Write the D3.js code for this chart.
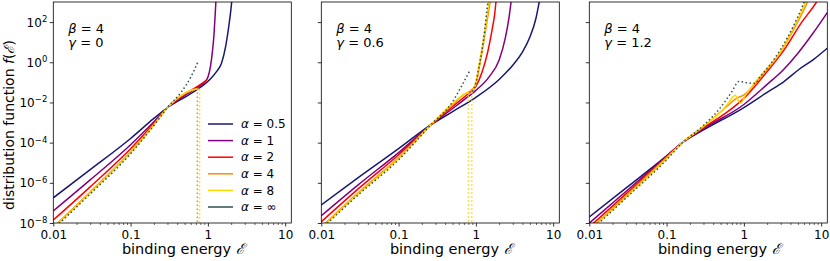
<!DOCTYPE html>
<html>
<head>
<meta charset="utf-8">
<script src="https://cdn.jsdelivr.net/npm/d3@7"></script>
<style>
body { margin: 0; background: #fff; }
svg { display: block; font-family: "DejaVu Sans", sans-serif; }
</style>
</head>
<body>
<svg width="830" height="261"></svg>
<script>
// legend / series
const alphaLabels = ["0.5", "1", "2", "4", "8", "∞"];
const colors = ["midnightblue", "purple", "red", "darkorange", "gold", "darkslategray"];
const gammas = ["0", "0.6", "1.2"];
const beta = "4";

const xTicks = [0.01, 0.1, 1, 10];
const xTickLabels = ["0.01", "0.1", "1", "10"];
const yTicks = [1e-8, 1e-6, 1e-4, 1e-2, 1e0, 1e2];
const yTickExps = ["−8", "−6", "−4", "−2", "0", "2"];

// each series: list of segments of [E, f]
const curvesG0 = [
  [[[0.01,1.8e-7],[0.03,4.5e-6],[0.1,1.6e-4],[0.2,1.6e-3],[0.3,5.6e-3],[0.5,1.8e-2],[0.7,4.0e-2],[0.9,7.9e-2],[1.1,0.16],[1.3,0.35],[1.5,0.9],[1.7,6.3],[1.85,50],[1.97,320],[2.07,2000]]],
  [[[0.01,4.0e-8],[0.03,1.4e-6],[0.1,7.9e-5],[0.2,1.1e-3],[0.3,5.6e-3],[0.5,2.2e-2],[0.7,5.0e-2],[0.9,0.1],[1.0,0.18],[1.08,0.63],[1.15,4.0],[1.2,25],[1.24,200],[1.28,2000]]],
  [[[0.01,1.4e-8],[0.03,6.3e-7],[0.1,5.0e-5],[0.2,8.9e-4],[0.3,5.6e-3],[0.5,2.5e-2],[0.7,5.6e-2],[0.97,0.13]]],
  [[[0.01,6.3e-9],[0.03,3.5e-7],[0.1,3.5e-5],[0.2,7.9e-4],[0.3,5.6e-3],[0.5,2.8e-2],[0.73,5.0e-2]]],
  [[[0.01,5.6e-9],[0.03,3.2e-7],[0.1,3.2e-5],[0.2,7.6e-4],[0.3,5.6e-3],[0.5,2.8e-2],[0.7,4.5e-2],[0.78,4.5e-2]]],
  [[[0.01,5.0e-9],[0.03,2.8e-7],[0.1,2.8e-5],[0.2,7.1e-4],[0.3,5.6e-3],[0.45,3.2e-2],[0.6,0.18],[0.74,1.0]]]
];
const dropsG0 = [[3, 0.73, 5.0e-2], [4, 0.78, 4.5e-2]];

const curvesG06 = [
  [[[0.01,7.9e-8],[0.03,1.8e-6],[0.1,5.0e-5],[0.26,7.6e-4],[0.5,3.5e-3],[1,1.8e-2],[2,0.14],[3,0.71],[4,3.2],[5,18],[6,160],[6.6,1000],[7,3000]]],
  [[[0.01,2.3e-8],[0.03,7.9e-7],[0.1,3.2e-5],[0.26,7.6e-4],[0.5,5.0e-3],[0.8,2.0e-2],[1,4.0e-2],[1.5,0.2],[2,1.3],[2.4,16],[2.7,200],[2.85,1000],[2.95,3000]]],
  [[[0.01,1.15e-8],[0.03,5.0e-7],[0.1,2.5e-5],[0.26,7.6e-4],[0.5,6.3e-3],[0.8,2.8e-2],[1,6.3e-2],[1.2,0.32],[1.4,2.5],[1.6,32],[1.75,250],[1.82,1000],[1.9,3000]]],
  [[[0.01,6.3e-9],[0.03,3.2e-7],[0.1,1.8e-5],[0.26,7.6e-4],[0.5,7.9e-3],[0.7,2.5e-2],[0.9,4.5e-2],[1.0,7.9e-2],[1.1,0.5],[1.25,7.9],[1.4,126],[1.53,1000],[1.6,3000]]],
  [[[0.01,5.6e-9],[0.03,2.8e-7],[0.1,1.6e-5],[0.26,7.6e-4],[0.5,8.9e-3],[0.7,2.5e-2],[0.8,3.2e-2]],
   [[0.885,3.2e-2],[1.0,0.1],[1.1,0.79],[1.25,12.6],[1.38,160],[1.48,1000],[1.55,3000]]],
  [[[0.01,5.0e-9],[0.03,2.5e-7],[0.1,1.4e-5],[0.26,7.6e-4],[0.5,1.1e-2],[0.65,6.3e-2],[0.82,0.34]],
   [[0.9,3.5e-2],[1.0,0.1],[1.1,0.63],[1.2,4.0],[1.3,40],[1.38,320],[1.43,1000],[1.48,3000]]]
];
const dropsG06 = [[4, 0.80, 3.2e-2], [4, 0.885, 3.2e-2]];

const curvesG12 = [
  [[[0.01,2.0e-8],[0.03,5.6e-7],[0.1,2.2e-5],[0.16,1.0e-4],[0.3,4.3e-4],[1,5.6e-3],[2,3.2e-2],[3.3,0.11],[5.2,0.45],[8,1.4],[12,5.0]]],
  [[[0.01,1.0e-8],[0.03,3.8e-7],[0.1,2.1e-5],[0.16,1.0e-4],[0.3,5.0e-4],[1,7.9e-3],[2,7.9e-2],[3.2,0.4],[5,2.8],[7.5,22],[12,300]]],
  [[[0.01,6.3e-9],[0.03,2.9e-7],[0.1,1.9e-5],[0.16,1.0e-4],[0.3,5.6e-4],[0.6,3.2e-3],[1,1.6e-2],[2,0.35],[3.3,4.0],[5.5,89],[8.7,1000],[10,2500]]],
  [[[0.01,4.5e-9],[0.03,2.3e-7],[0.1,1.8e-5],[0.16,1.0e-4],[0.3,6.3e-4],[0.6,6.3e-3],[0.8,1.6e-2],[1,2.4e-2],[1.3,6.3e-2],[2,0.45],[3,3.2],[4.5,50],[6.65,1000],[7.5,3000]]],
  [[[0.01,4.0e-9],[0.03,2.0e-7],[0.1,1.6e-5],[0.16,1.0e-4],[0.3,6.6e-4],[0.55,5.0e-3],[0.65,1.1e-2],[0.72,1.9e-2],[0.77,2.3e-2],[0.9,9.1e-3],[1.05,2.3e-2],[1.3,7.1e-2],[2,0.5],[3,3.5],[4.5,63],[6.3,1000],[7,3000]]],
  [[[0.01,3.5e-9],[0.03,1.8e-7],[0.1,1.4e-5],[0.16,1.0e-4],[0.3,7.1e-4],[0.55,9.1e-3],[0.7,3.5e-2],[0.86,0.11],[1.1,9.5e-2],[1.4,8.9e-2],[1.6,0.18],[2,0.5],[3,4.5],[4.5,80],[6,1000],[6.6,3000]]]
];
const dropsG12 = [];

const panels = [
  {gamma: gammas[0], curves: curvesG0, drops: dropsG0},
  {gamma: gammas[1], curves: curvesG06, drops: dropsG06},
  {gamma: gammas[2], curves: curvesG12, drops: dropsG12}
];

const svg = d3.select("svg");
const plotTop = 2, plotBottom = 223, pw = 238, firstLeft = 53.3, step = 268;
const dotted = "1.5,2.5";

panels.forEach((p, i) => {
  const left = firstLeft + i * step;
  const x = d3.scaleLog().domain([0.01, 12]).range([left, left + pw]);
  const y = d3.scaleLog().domain([1e-8, 1e3]).range([plotBottom, plotTop]);
  const g = svg.append("g");

  g.append("clipPath").attr("id", "clip" + i)
    .append("rect").attr("x", left).attr("y", plotTop).attr("width", pw).attr("height", plotBottom - plotTop);

  const plot = g.append("g").attr("clip-path", `url(#clip${i})`);
  const line = d3.line().x(d => x(d[0])).y(d => y(d[1])).curve(d3.curveMonotoneX);

  p.curves.forEach((segs, k) => {
    segs.forEach(seg => {
      plot.append("path")
        .attr("d", line(seg))
        .attr("fill", "none")
        .attr("stroke", colors[k])
        .attr("stroke-width", 1.5)
        .attr("stroke-dasharray", k === 5 ? dotted : null);
    });
  });

  p.drops.forEach(d => {
    plot.append("line")
      .attr("x1", x(d[1])).attr("x2", x(d[1]))
      .attr("y1", y(d[2])).attr("y2", plotBottom)
      .attr("stroke", colors[d[0]])
      .attr("stroke-width", 1.5)
      .attr("stroke-dasharray", dotted);
  });

  // axes
  const minor = [];
  [0.01, 0.1, 1, 10].forEach(dec => d3.range(2, 10).forEach(m => { if (dec * m <= 12) minor.push(dec * m); }));

  g.append("g").attr("transform", `translate(0,${plotBottom})`)
    .call(d3.axisBottom(x).tickValues(minor).tickSize(2).tickFormat(""))
    .call(a => a.select(".domain").remove())
    .call(a => a.selectAll("line").attr("stroke-width", 0.6));

  g.append("g").attr("transform", `translate(0,${plotBottom})`)
    .call(d3.axisBottom(x).tickValues(xTicks).tickSize(3.5).tickPadding(3.5).tickFormat((d, j) => xTickLabels[j]))
    .call(a => a.select(".domain").remove())
    .call(a => a.selectAll("line").attr("stroke-width", 0.8))
    .call(a => a.selectAll("text").attr("font-size", 12).attr("font-family", "DejaVu Sans").attr("fill", "#000"));

  g.append("g").attr("transform", `translate(${left},0)`)
    .call(d3.axisLeft(y).tickValues(yTicks).tickSize(3.5).tickFormat(""))
    .call(a => a.select(".domain").remove())
    .call(a => a.selectAll("line").attr("stroke-width", 0.8));

  if (i === 0) {
    yTicks.forEach((v, j) => {
      const t = g.append("text")
        .attr("x", left - 6).attr("y", y(v))
        .attr("text-anchor", "end")
        .attr("font-size", 12);
      t.append("tspan").attr("dy", "0.38em").text("10");
      t.append("tspan").attr("dy", "-0.55em").attr("font-size", 8.5).text(yTickExps[j]);
    });
    g.append("text")
      .attr("transform", `translate(14,125) rotate(-90)`)
      .attr("text-anchor", "middle")
      .attr("font-size", 14)
      .html('distribution function <tspan font-style="italic">f</tspan>(<tspan font-family="DejaVu Serif" font-style="italic">ℰ</tspan>)');
  }

  g.append("text")
    .attr("x", left + pw / 2 + 11).attr("y", 254)
    .attr("text-anchor", "middle")
    .attr("font-size", 14.5)
    .html('binding energy <tspan font-family="DejaVu Serif" font-style="italic">ℰ</tspan>');

  const ann = g.append("text").attr("font-size", 13);
  ann.append("tspan").attr("x", left + 15).attr("y", 33)
    .html(`<tspan font-style="italic">β</tspan> = ${beta}`);
  ann.append("tspan").attr("x", left + 15).attr("y", 47)
    .html(`<tspan font-style="italic">γ</tspan> = ${p.gamma}`);

  // frame
  g.append("rect")
    .attr("x", left).attr("y", plotTop).attr("width", pw).attr("height", plotBottom - plotTop)
    .attr("fill", "none").attr("stroke", "#000").attr("stroke-width", 0.8);

  if (i === 0) {
    const lg = g.append("g");
    alphaLabels.forEach((a, k) => {
      const ry = 124 + k * 16.6;
      lg.append("line")
        .attr("x1", 208).attr("x2", 233).attr("y1", ry).attr("y2", ry)
        .attr("stroke", colors[k]).attr("stroke-width", 1.5);
      lg.append("text")
        .attr("x", 241).attr("y", ry).attr("dy", "0.35em")
        .attr("font-size", 12)
        .html(`<tspan font-style="italic">α</tspan> = ${a}`);
    });
  }
});
</script>
</body>
</html>
